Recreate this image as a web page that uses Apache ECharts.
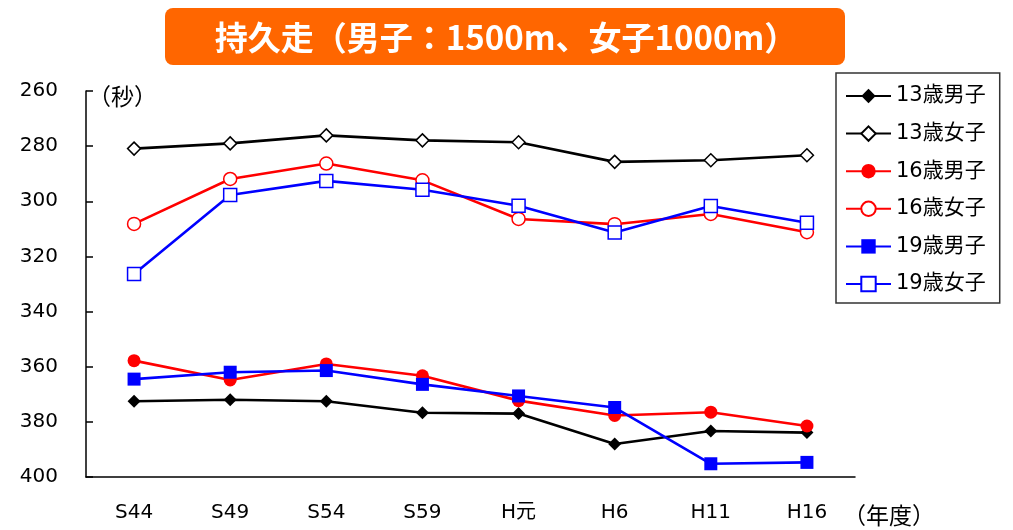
<!DOCTYPE html>
<html>
<head>
<meta charset="utf-8">
<script src="https://cdn.jsdelivr.net/npm/echarts@6/dist/echarts.min.js"></script>
<style>
  html, body { margin: 0; padding: 0; background: #fff; }
  #chart { width: 1013px; height: 530px; }
</style>
</head>
<body>
<div id="chart"></div>
<script>
// 年度
const years = ['S44', 'S49', 'S54', 'S59', 'H元', 'H6', 'H11', 'H16'];

// 記録（秒）
const boys13 = [372.5, 372.0, 372.5, 376.7, 377.0, 388.0, 383.3, 383.9];
const girls13 = [280.9, 279.0, 276.1, 277.9, 278.6, 285.7, 285.1, 283.3];
const boys16 = [357.8, 364.8, 359.0, 363.3, 372.3, 377.7, 376.5, 381.5];
const girls16 = [308.2, 291.9, 286.3, 292.4, 306.4, 308.3, 304.6, 311.2];
const boys19 = [364.5, 362.0, 361.4, 366.4, 370.6, 374.8, 395.2, 394.7];
const girls19 = [326.4, 297.7, 292.6, 295.8, 301.6, 311.3, 301.7, 307.8];

const yTicks = { min: 260, max: 400, step: 20 };

const NUMFONT = '"DejaVu Sans", "Noto Sans CJK JP", sans-serif';

const chart = echarts.init(document.getElementById('chart'));

function mkSeries(name, data, color, symbol, open) {
    return {
        name: name,
        type: 'line',
        data: data,
        symbol: symbol,
        symbolSize: 13,
        showAllSymbol: true,
        lineStyle: { color: color, width: 2.6 },
        itemStyle: open
            ? { color: '#fff', borderColor: color, borderWidth: 1.5 }
            : { color: color, borderWidth: 0 },
        emphasis: { disabled: true },
        z: open ? 3 : 2
    };
}

const option = {
    animation: false,
    textStyle: { fontFamily: NUMFONT },
    grid: { left: 86, right: 158, top: 91, bottom: 53 },
    xAxis: {
        type: 'category',
        data: years,
        boundaryGap: true,
        axisLine: { lineStyle: { color: '#000', width: 1.5 } },
        axisTick: { inside: true, length: 8, lineStyle: { color: '#000', width: 1.5 } },
        axisLabel: { color: '#000', fontSize: 20, margin: 26, fontFamily: NUMFONT },
        splitLine: { show: false }
    },
    yAxis: {
        type: 'value',
        inverse: true,
        min: yTicks.min,
        max: yTicks.max,
        interval: yTicks.step,
        axisLine: { show: true, lineStyle: { color: '#000', width: 1.5 } },
        axisTick: { show: true, inside: true, length: 7, lineStyle: { color: '#000', width: 1.5 } },
        axisLabel: { color: '#000', fontSize: 20, margin: 28, fontFamily: NUMFONT },
        splitLine: { show: false }
    },
    legend: {
        orient: 'vertical',
        left: 836,
        top: 73,
        padding: [12, 14, 8, 9],
        itemWidth: 45,
        itemHeight: 18,
        itemGap: 15.6,
        borderColor: '#333',
        borderWidth: 1.5,
        textStyle: { color: '#000', fontSize: 21, lineHeight: 22, fontFamily: NUMFONT },
        data: ['13歳男子', '13歳女子', '16歳男子', '16歳女子', '19歳男子', '19歳女子']
    },
    graphic: [
        {
            type: 'rect',
            shape: { x: 165, y: 8, width: 680, height: 57, r: 8 },
            style: { fill: '#FF6600' }
        },
        {
            type: 'text',
            x: 506, y: 37,
            style: {
                text: '持久走（男子：1500m、女子1000m）',
                fill: '#fff',
                font: 'bold 33px "Noto Sans CJK JP", sans-serif',
                align: 'center',
                verticalAlign: 'middle'
            }
        },
        {
            type: 'text',
            x: 88, y: 96,
            style: { text: '（秒）', fill: '#000', font: '23px "Noto Sans CJK JP", sans-serif', verticalAlign: 'middle' }
        },
        {
            type: 'text',
            x: 843, y: 515,
            style: { text: '（年度）', fill: '#000', font: '23px "Noto Sans CJK JP", sans-serif', verticalAlign: 'middle' }
        }
    ],
    series: [
        mkSeries('13歳男子', boys13, '#000', 'diamond', false),
        mkSeries('13歳女子', girls13, '#000', 'diamond', true),
        mkSeries('16歳男子', boys16, '#FF0000', 'circle', false),
        mkSeries('16歳女子', girls16, '#FF0000', 'circle', true),
        mkSeries('19歳男子', boys19, '#0000FF', 'rect', false),
        mkSeries('19歳女子', girls19, '#0000FF', 'rect', true)
    ]
};

chart.setOption(option);
window.addEventListener('resize', () => chart.resize());
</script>
</body>
</html>
